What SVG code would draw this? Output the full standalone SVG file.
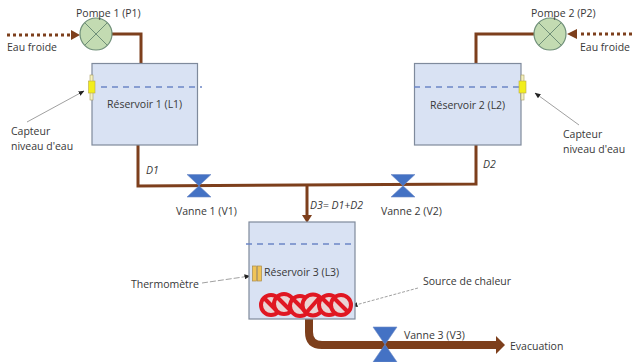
<svg xmlns="http://www.w3.org/2000/svg" width="634" height="362" viewBox="0 0 634 362">
<defs>
<style>
text{font-family:"Open Sans","Liberation Sans",sans-serif;font-size:10.500px;fill:#383838}
.it{font-style:italic}
.tank{fill:#d9e2f3;stroke:#7f8a9c;stroke-width:1.2}
.lvl{fill:none;stroke:#6c86c6;stroke-width:1.6;stroke-dasharray:6 5}
.pipe{fill:none;stroke:#7d3f1c;stroke-width:3}
.pump{fill:#c3dbb2;stroke:#6f8f78;stroke-width:1.2}
.x{stroke:#6f8f78;stroke-width:1}
.valve{fill:#4472c4;stroke:#6f8cc8;stroke-width:.6}
.lead{fill:none;stroke:#777;stroke-width:.7}
.sensor{fill:#f2ee1c;stroke:#b8a84a;stroke-width:.6}
.stem{fill:#f5f2c0;stroke:#a89c60;stroke-width:.6}
.ring{fill:#ead4d4;stroke:#e01722;stroke-width:4}
.bar{stroke:#e01722;stroke-width:4}
.therm{fill:#f0c458;stroke:#a88a4a;stroke-width:.7}
</style>
<marker id="ah" markerUnits="userSpaceOnUse" markerWidth="6" markerHeight="5" refX="5.500" refY="2.500" orient="auto"><path d="M0 0L6 2.500L0 5z" fill="#222"/></marker>
</defs>
<g id="connectors">
<path class="pipe" d="M112 34H141V63"/>
<path class="pipe" d="M534 34H476V63"/>
<path class="pipe" d="M138 145V186L476 184V145"/>
<path class="pipe" d="M307 186V216"/>
<path d="M302 215H312L307 223z" fill="#7d3f1c"/>
<path d="M7 35H72" fill="none" stroke="#7d3f1c" stroke-width="3" stroke-dasharray="3 3"/>
<path d="M71 30L80 35L71 40z" fill="#7d3f1c"/>
<path d="M632 34H578" fill="none" stroke="#7d3f1c" stroke-width="3" stroke-dasharray="3 3"/>
<path d="M577 29L567 34L577 39z" fill="#7d3f1c"/>
<path d="M309 319V332Q309 345 322 345H497" fill="none" stroke="#7d3f1c" stroke-width="8"/>
<path d="M496 336L505 345L496 354z" fill="#7d3f1c"/>
<path class="lead" marker-end="url(#ah)" d="M27 122L84 91"/>
<path class="lead" marker-end="url(#ah)" d="M579 125L535 93"/>
<path class="lead" stroke-dasharray="6 2" marker-end="url(#ah)" d="M202 283L250 276"/>
<path class="lead" stroke-dasharray="3 1.500" marker-end="url(#ah)" d="M418 288L352 306"/>
</g>
<g id="pump1"><circle class="pump" cx="96" cy="34" r="16"/><path class="x" d="M85 23L107 45M107 23L85 45"/><text x="76" y="17">Pompe 1 (P1)</text></g>
<g id="pump2"><circle class="pump" cx="550" cy="34" r="16"/><path class="x" d="M539 23L561 45M561 23L539 45"/><text x="531" y="17">Pompe 2 (P2)</text></g>
<g id="tank1"><rect class="tank" x="92" y="63.500" width="105.500" height="81.500"/><path class="lvl" d="M101 87H202"/><text x="107" y="108">Réservoir 1 (L1)</text></g>
<g id="tank2"><rect class="tank" x="414.500" y="63.500" width="106.500" height="81.500"/><path class="lvl" d="M414 87H520"/><text x="430" y="109">Réservoir 2 (L2)</text></g>
<g id="tank3"><rect class="tank" x="249" y="222" width="106" height="97"/><path class="lvl" d="M246 244H355"/><text x="264" y="276">Réservoir 3 (L3)</text></g>
<g id="sensor1"><rect class="stem" x="90" y="75" width="3" height="25"/><rect class="sensor" x="88.500" y="81" width="6.500" height="12"/></g>
<g id="sensor2"><rect class="stem" x="521" y="75" width="3" height="25"/><rect class="sensor" x="519" y="81" width="7" height="12"/></g>
<g id="thermometer"><rect class="therm" x="252.500" y="266" width="4" height="15"/><rect class="therm" x="257.500" y="266" width="4" height="15"/></g>
<g id="heat">
<circle class="ring" cx="271" cy="305" r="10"/><path class="bar" d="M264 298L278 312"/>
<circle class="ring" cx="284" cy="304" r="10"/><path class="bar" d="M277 297L291 311"/>
<circle class="ring" cx="300" cy="306" r="10"/><path class="bar" d="M293 299L307 313"/>
<circle class="ring" cx="313" cy="305" r="10.500"/><path class="bar" d="M306 313L320 297"/>
<circle class="ring" cx="329" cy="305" r="10"/><path class="bar" d="M322 298L336 312"/>
<circle class="ring" cx="341" cy="305" r="10"/><path class="bar" d="M334 298L348 312"/>
</g>
<g id="valve1"><path class="valve" d="M187 174.500H211L187 197H211z"/><text x="176" y="215">Vanne 1 (V1)</text></g>
<g id="valve2"><path class="valve" d="M391 174.500H415L391 197H415z"/><text x="381" y="215">Vanne 2 (V2)</text></g>
<g id="valve3"><path class="valve" d="M373 327H397L373 362H397z"/><text x="404" y="339">Vanne 3 (V3)</text></g>
<g id="labels">
<text x="7" y="51">Eau froide</text>
<text x="580" y="51">Eau froide</text>
<text x="11" y="135">Capteur</text>
<text x="11" y="150">niveau d'eau</text>
<text x="563" y="138">Capteur</text>
<text x="563" y="153">niveau d'eau</text>
<text class="it" x="146" y="174">D1</text>
<text class="it" x="483" y="168">D2</text>
<text class="it" x="310" y="209">D3= D1+D2</text>
<text x="131" y="288">Thermomètre</text>
<text x="423" y="285">Source de chaleur</text>
<text x="510" y="350">Evacuation</text>
</g>
</svg>
